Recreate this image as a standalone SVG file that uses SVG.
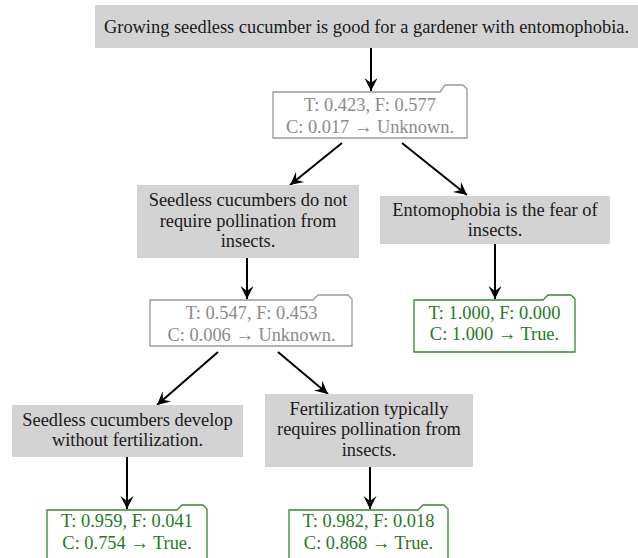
<svg xmlns="http://www.w3.org/2000/svg" width="638" height="558" viewBox="0 0 638 558">
<style>
text{font-family:"Liberation Serif","Times New Roman",serif;font-size:18.4px;text-anchor:middle}
.claim rect{fill:#d3d3d3;stroke:none}
.claim text{fill:#1a1a1a}
.unk path{fill:#fff;stroke:#999;stroke-width:1.3}
.unk text{fill:#8a8a8a}
.tru path{fill:#fff;stroke:#2e8b2e;stroke-width:1.3}
.tru text{fill:#1f7a1f}
.edge{stroke:#000;stroke-width:2;fill:none;marker-end:url(#ah)}
</style>
<defs>
<marker id="ah" markerUnits="userSpaceOnUse" markerWidth="20" markerHeight="20" refX="0" refY="0" orient="auto" overflow="visible">
<path d="M0,0 L-13,-6.5 L-8,0 L-13,6.5 Z" fill="#000"/>
</marker>
</defs>
<g id="connectors">
<line class="edge" x1="371" y1="48" x2="371" y2="91"/>
<line class="edge" x1="342" y1="143" x2="290" y2="185"/>
<line class="edge" x1="402" y1="143" x2="467" y2="195"/>
<line class="edge" x1="247" y1="258" x2="247" y2="299"/>
<line class="edge" x1="495" y1="244" x2="495" y2="299"/>
<line class="edge" x1="218" y1="352" x2="157" y2="405"/>
<line class="edge" x1="278" y1="352" x2="328" y2="394"/>
<line class="edge" x1="127" y1="457" x2="127" y2="509"/>
<line class="edge" x1="370" y1="467" x2="370" y2="509"/>
</g>
<g id="n0" class="claim">
<rect x="95" y="5" width="543" height="43"/>
<text x="366.5" y="33">Growing seedless cucumber is good for a gardener with entomophobia.</text>
</g>
<g id="n1" class="unk">
<path d="M273,92 H440 L445,85 H463 L467,89 V138 H273 Z"/>
<text x="370" y="111">T: 0.423, F: 0.577</text>
<text x="370" y="133">C: 0.017 → Unknown.</text>
</g>
<g id="n2" class="claim">
<rect x="137" y="185" width="222" height="73"/>
<text x="248" y="206">Seedless cucumbers do not</text>
<text x="248" y="226.5">require pollination from</text>
<text x="248" y="247">insects.</text>
</g>
<g id="n3" class="claim">
<rect x="380" y="196" width="230" height="48"/>
<text x="495" y="216">Entomophobia is the fear of</text>
<text x="495" y="236">insects.</text>
</g>
<g id="n4" class="unk">
<path d="M150,300 H313 L318,295 H348 L352,299 V346 H150 Z"/>
<text x="251.5" y="319">T: 0.547, F: 0.453</text>
<text x="251.5" y="341">C: 0.006 → Unknown.</text>
</g>
<g id="n5" class="tru">
<path d="M414,300 H543 L548,295 H571 L575,299 V352 H414 Z"/>
<text x="494.5" y="319">T: 1.000, F: 0.000</text>
<text x="494.5" y="340">C: 1.000 → True.</text>
</g>
<g id="n6" class="claim">
<rect x="12" y="405" width="231" height="52"/>
<text x="127.5" y="426">Seedless cucumbers develop</text>
<text x="127.5" y="446">without fertilization.</text>
</g>
<g id="n7" class="claim">
<rect x="265" y="394" width="208" height="73"/>
<text x="369" y="415">Fertilization typically</text>
<text x="369" y="435">requires pollination from</text>
<text x="369" y="456">insects.</text>
</g>
<g id="n8" class="tru">
<path d="M47,510 H177 L182,505 H203 L207,509 V562 H47 Z"/>
<text x="127" y="527">T: 0.959, F: 0.041</text>
<text x="127" y="549">C: 0.754 → True.</text>
</g>
<g id="n9" class="tru">
<path d="M289,510 H418 L423,505 H444 L448,509 V562 H289 Z"/>
<text x="368.5" y="527">T: 0.982, F: 0.018</text>
<text x="368.5" y="549">C: 0.868 → True.</text>
</g>
</svg>
